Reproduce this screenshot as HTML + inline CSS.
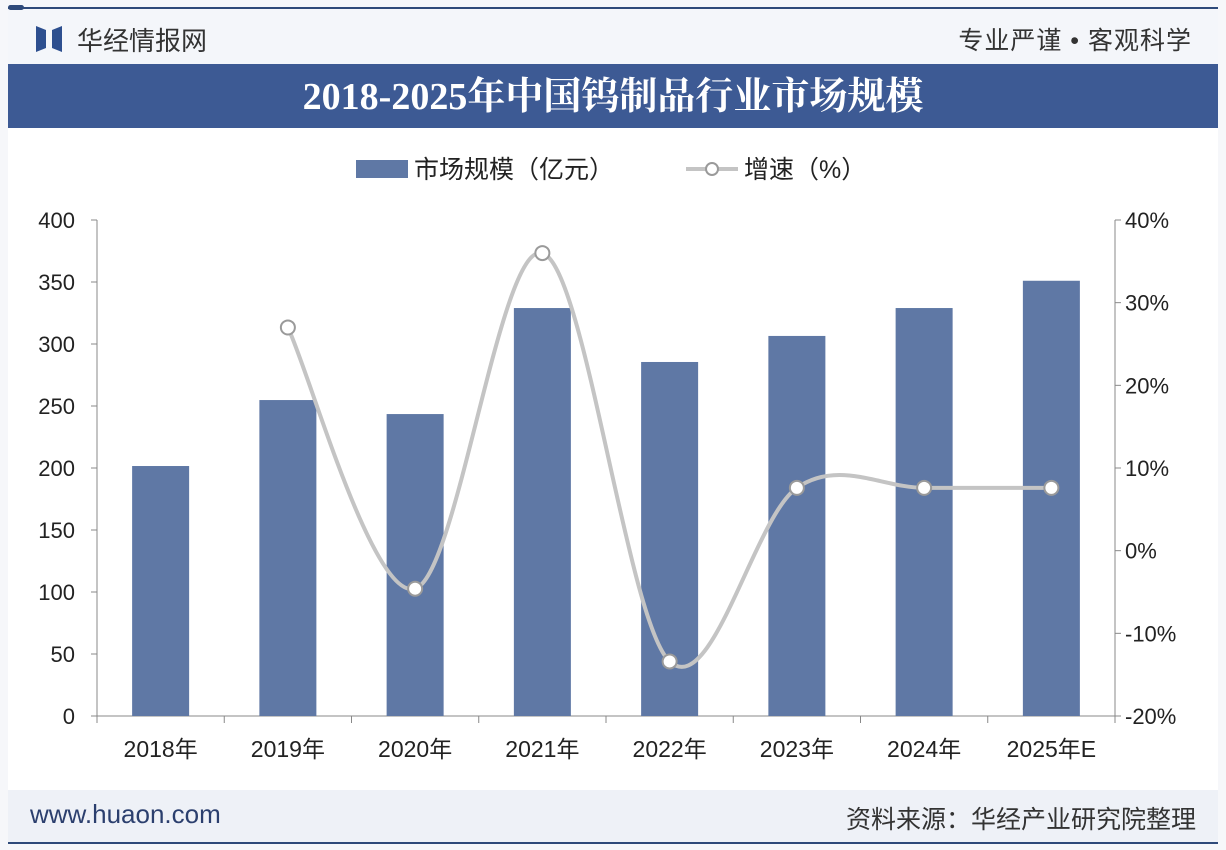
<!DOCTYPE html>
<html><head><meta charset="utf-8"><style>
body{margin:0;width:1226px;height:850px;background:#f6f7fa;font-family:"Liberation Sans","Noto Sans CJK SC",sans-serif;position:relative;overflow:hidden}
.abs{position:absolute}
</style></head><body>
<div class="abs" style="left:8px;top:7px;width:1210px;height:2px;background:#2f4a7a"></div>
<div class="abs" style="left:8px;top:5px;width:16px;height:5px;border-radius:3px;background:#2f4a7a"></div>
<div class="abs" style="left:8px;top:10px;width:1210px;height:54px;background:#f4f6fa"></div>
<svg class="abs" style="left:36px;top:26px" width="26" height="26"><path d="M0 0 L10 4 L10 22 L0 26Z" fill="#2d4f8f"/><path d="M26 0 L16 4 L16 22 L26 26Z" fill="#2d4f8f"/></svg>
<div class="abs" style="left:77px;top:21px;font-size:26px;color:#333">华经情报网</div>
<div class="abs" style="right:34px;top:21px;font-size:25px;color:#333;letter-spacing:1px">专业严谨 • 客观科学</div>
<div class="abs" style="left:8px;top:64px;width:1210px;height:64px;background:#3d5a94;color:#fff;text-align:center;line-height:66px;font-size:38px;font-weight:bold;font-family:'Liberation Serif','Noto Serif CJK SC',serif">2018-2025年中国钨制品行业市场规模</div>
<div class="abs" style="left:8px;top:128px;width:1210px;height:662px;background:#fff"></div>
<div class="abs" style="left:8px;top:790px;width:1210px;height:52px;background:#eef1f7"></div>
<div class="abs" style="left:30px;top:799px;font-size:26px;color:#2b3f6e">www.huaon.com</div>
<div class="abs" style="right:30px;top:800px;font-size:25px;color:#333">资料来源：华经产业研究院整理</div>
<div class="abs" style="left:8px;top:842px;width:1210px;height:2px;background:#2f4a7a"></div>
<svg class="abs" id="chart" style="left:0;top:0" width="1226" height="850" font-family="Liberation Sans, Noto Sans CJK SC, sans-serif"></svg>
<script>
const categories=["2018年","2019年","2020年","2021年","2022年","2023年","2024年","2025年E"];
const marketSize=[201.6,254.8,243.5,329,285.5,306.5,329,351];
const growth=[null,27.0,-4.6,36.0,-13.4,7.6,7.6,7.6];
const leftTicks=[0,50,100,150,200,250,300,350,400];
const rightTicks=[-20,-10,0,10,20,30,40];
const NS="http://www.w3.org/2000/svg",svg=document.getElementById('chart');
const X0=97,X1=1115,Y0=716,Y1=220,band=(X1-X0)/categories.length;
const xc=i=>X0+band*(i+0.5);
const yL=v=>Y0-(v-0)/400*(Y0-Y1);
const yR=v=>Y0-(v+20)/60*(Y0-Y1);
function mk(t,a,p){const e=document.createElementNS(NS,t);for(const k in a)e.setAttribute(k,a[k]);(p||svg).appendChild(e);return e;}
let e=mk('line',{x1:X0,y1:Y1,x2:X0,y2:Y0,stroke:'#888'});


e=mk('line',{x1:X1,y1:Y1,x2:X1,y2:Y0,stroke:'#888'});


e=mk('line',{x1:X0,y1:Y0,x2:X1,y2:Y0,stroke:'#888'});


leftTicks.forEach(v=>{mk('line',{x1:X0-6,y1:yL(v),x2:X0,y2:yL(v),stroke:'#888'});
 const t=mk('text',{x:X0-22,y:yL(v)+8,'text-anchor':'end','font-size':22,fill:'#222'});t.textContent=v;
 
 });
rightTicks.forEach(v=>{mk('line',{x1:X1,y1:yR(v),x2:X1+6,y2:yR(v),stroke:'#888'});
 const t=mk('text',{x:X1+10,y:yR(v)+8,'font-size':22,fill:'#222'});t.textContent=v+'%';
 
 });
for(let i=0;i<=categories.length;i++)mk('line',{x1:X0+band*i,y1:Y0,x2:X0+band*i,y2:Y0+7,stroke:'#888'});
categories.forEach((c,i)=>{const t=mk('text',{x:xc(i),y:Y0+41,'text-anchor':'middle','font-size':23,fill:'#222'});t.textContent=c;
 
 });
marketSize.forEach((v,i)=>{const r=mk('rect',{x:xc(i)-28.5,y:yL(v),width:57,height:Y0-yL(v),fill:'#5f78a5'});
 
 });
const pts=[];growth.forEach((v,i)=>{if(v!==null)pts.push([xc(i),yR(v)]);});
let d='M'+pts[0][0]+' '+pts[0][1];
for(let i=0;i<pts.length-1;i++){const p0=pts[i-1]||pts[i],p1=pts[i],p2=pts[i+1],p3=pts[i+2]||p2,k=1/6;
 d+=` C${p1[0]+(p2[0]-p0[0])*k} ${p1[1]+(p2[1]-p0[1])*k} ${p2[0]-(p3[0]-p1[0])*k} ${p2[1]-(p3[1]-p1[1])*k} ${p2[0]} ${p2[1]}`;}
e=mk('path',{d:d,fill:'none',stroke:'#c4c4c4','stroke-width':4});


pts.forEach(p=>{const c=mk('circle',{cx:p[0],cy:p[1],r:7,fill:'#fff',stroke:'#9a9a9a','stroke-width':2});
 
 });
e=mk('rect',{x:356,y:160,width:52,height:18,fill:'#5f78a5'});


e=mk('text',{x:414,y:178,'font-size':25,fill:'#222'});e.textContent='市场规模（亿元）';


mk('line',{x1:686,y1:169,x2:738,y2:169,stroke:'#c4c4c4','stroke-width':4});
e=mk('circle',{cx:712,cy:169,r:6,fill:'#fff',stroke:'#9a9a9a','stroke-width':2});


e=mk('text',{x:744,y:178,'font-size':25,fill:'#222'});e.textContent='增速（%）';


</script>
</body></html>
